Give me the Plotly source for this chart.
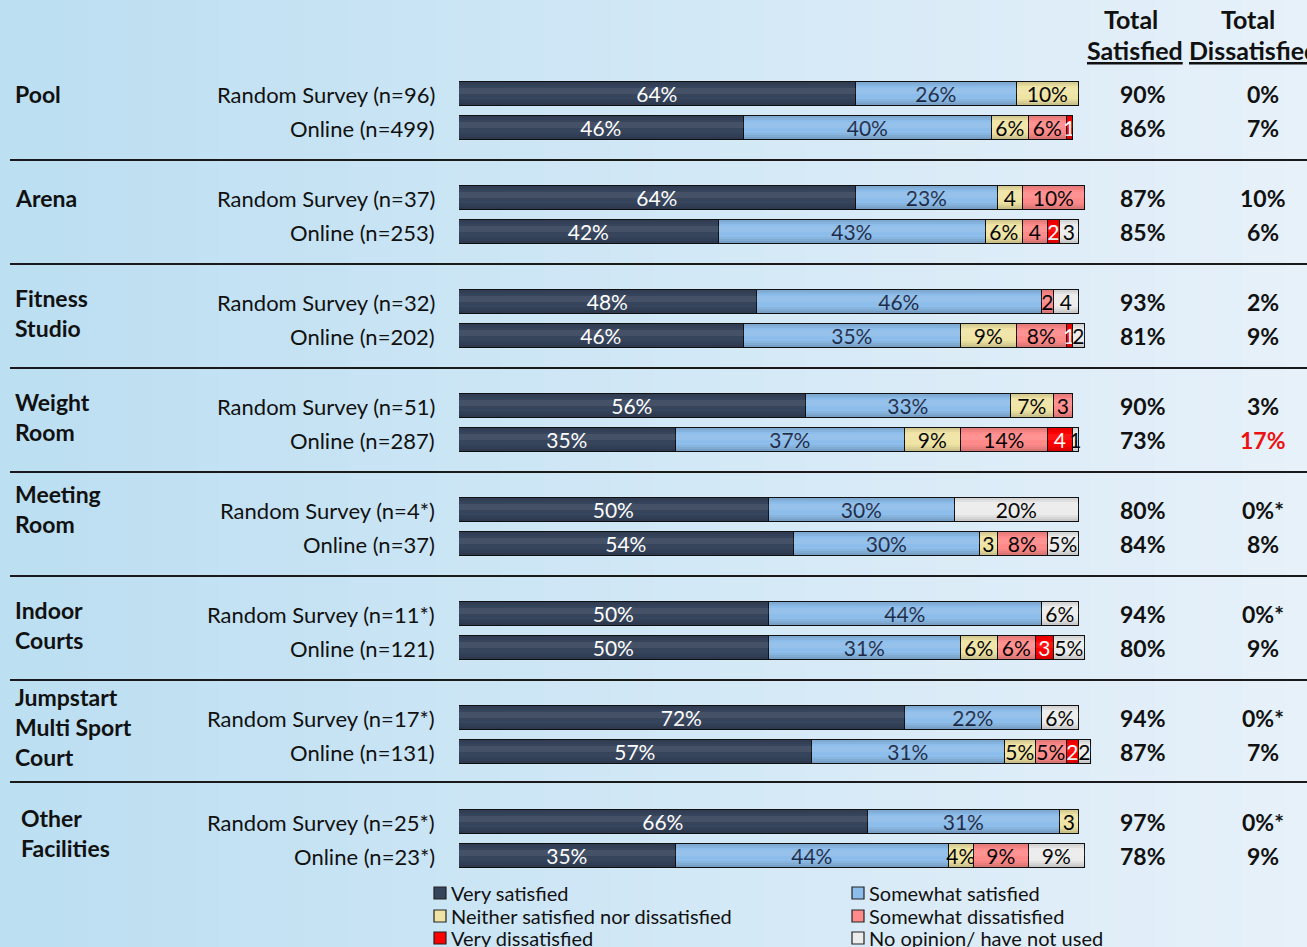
import plotly.graph_objects as go

# ---- data -------------------------------------------------------------
facilities = ["Pool", "Arena", "Fitness<br>Studio", "Weight<br>Room", "Meeting<br>Room",
              "Indoor<br>Courts", "Jumpstart<br>Multi Sport<br>Court", "Other<br>Facilities"]

sample_labels = [
    "Random Survey (n=96)", "Online (n=499)",
    "Random Survey (n=37)", "Online (n=253)",
    "Random Survey (n=32)", "Online (n=202)",
    "Random Survey (n=51)", "Online (n=287)",
    "Random Survey (n=4*)", "Online (n=37)",
    "Random Survey (n=11*)", "Online (n=121)",
    "Random Survey (n=17*)", "Online (n=131)",
    "Random Survey (n=25*)", "Online (n=23*)",
]

very_satisfied     = [64, 46, 64, 42, 48, 46, 56, 35, 50, 54, 50, 50, 72, 57, 66, 35]
somewhat_satisfied = [26, 40, 23, 43, 46, 35, 33, 37, 30, 30, 44, 31, 22, 31, 31, 44]
neither            = [10, 6, 4, 6, 0, 9, 7, 9, 0, 3, 0, 6, 0, 5, 3, 4]
somewhat_dissat    = [0, 6, 10, 4, 2, 8, 3, 14, 0, 8, 0, 6, 0, 5, 0, 9]
very_dissat        = [0, 1, 0, 2, 0, 1, 0, 4, 0, 0, 0, 3, 0, 2, 0, 0]
no_opinion         = [0, 0, 0, 3, 4, 2, 0, 1, 20, 5, 6, 5, 6, 2, 0, 9]

total_satisfied    = ["90%", "86%", "87%", "85%", "93%", "81%", "90%", "73%",
                      "80%", "84%", "94%", "80%", "94%", "87%", "97%", "78%"]
total_dissatisfied = ["0%", "7%", "10%", "6%", "2%", "9%", "3%", "17%",
                      "0%*", "8%", "0%*", "9%", "0%*", "7%", "0%*", "9%"]

series_names = ["Very satisfied", "Somewhat satisfied", "Neither satisfied nor dissatisfied",
                "Somewhat dissatisfied", "Very dissatisfied", "No opinion/ have not used"]

# ---- styling ----------------------------------------------------------
W, H = 1307, 947
FONT = "Lato"
BAR_LEFT, BAR_100 = 459, 620          # pixel start of the bars and width of 100 %
X_MAX = 103                           # a little headroom for rows that round above 100 %
fills = ["#36445c", "#8dbdea", "#efe4a4", "#ff8a8a", "#ff0000", "#ececec"]
text_colors = ["white", "#1e2c48", "black", "black", "white", "black"]
# small segments that still carry a % sign
keep_pct = {(15, 2)}

row_y = [94 + 104 * (i // 2) + 34 * (i % 2) for i in range(len(sample_labels))]

fig = go.Figure()

# soft horizontal background gradient
n_strips = 60
c0 = (188, 223, 242)
c1 = (231, 241, 250)
for k in range(n_strips):
    t = k / (n_strips - 1)
    col = tuple(int(c0[j] + (c1[j] - c0[j]) * t) for j in range(3))
    fig.add_shape(type="rect", xref="paper", yref="paper",
                  x0=k / n_strips, x1=(k + 1) / n_strips + 0.002, y0=0, y1=1,
                  fillcolor="rgb(%d,%d,%d)" % col, line_width=0, layer="below")

all_series = [very_satisfied, somewhat_satisfied, neither, somewhat_dissat, very_dissat, no_opinion]
for s, (name, vals) in enumerate(zip(series_names, all_series)):
    texts = []
    for r, v in enumerate(vals):
        if v == 0:
            texts.append("")
        elif v >= 5 or (r, s) in keep_pct:
            texts.append(f"{v}%")
        else:
            texts.append(f"{v}")
    fig.add_trace(go.Bar(
        x=vals, y=row_y, orientation="h", width=24, name=name,
        marker=dict(color=fills[s], line=dict(color="#111111", width=1.4)),
        text=texts, textposition="inside", insidetextanchor="middle", textangle=0,
        textfont=dict(family=FONT, size=21, color=text_colors[s]),
        showlegend=False, hoverinfo="skip", cliponaxis=False,
    ))

# cylinder-like shading over each stacked bar: darker towards the top and bottom edges
shade_bands = [(-12, -10, "rgba(0,0,0,0.10)"), (-10, -8, "rgba(0,0,0,0.05)"),
               (-6, 0, "rgba(255,255,255,0.07)"),
               (5, 7, "rgba(0,0,0,0.04)"), (7, 9, "rgba(0,0,0,0.09)"),
               (9, 12, "rgba(0,0,0,0.15)")]
for r in range(len(sample_labels)):
    total = sum(series[r] for series in all_series)
    y = row_y[r]
    for d0, d1, col in shade_bands:
        fig.add_shape(type="rect", xref="x", yref="y", x0=0, x1=total, y0=y + d0, y1=y + d1,
                      fillcolor=col, line_width=0, layer="above")

fig.update_layout(
    width=W, height=H, margin=dict(l=0, r=0, t=0, b=0),
    barmode="stack", bargap=0,
    paper_bgcolor="#d6e9f6", plot_bgcolor="rgba(0,0,0,0)",
    uniformtext=dict(minsize=20, mode="show"),
    xaxis=dict(domain=[BAR_LEFT / W, (BAR_LEFT + BAR_100 * X_MAX / 100) / W],
               range=[0, X_MAX], visible=False, fixedrange=True),
    yaxis=dict(domain=[0, 1], range=[H, 0], visible=False, fixedrange=True),
    font=dict(family=FONT),
)

# sample labels, right aligned next to the bars
for r, lab in enumerate(sample_labels):
    fig.add_annotation(x=437 / W, xref="paper", y=row_y[r], yref="y", text=lab,
                       xanchor="right", yanchor="middle", showarrow=False,
                       font=dict(family=FONT, size=22, color="#111111"))

# totals columns
for r in range(len(sample_labels)):
    fig.add_annotation(x=1143 / W, xref="paper", y=row_y[r], yref="y",
                       text=f"<b>{total_satisfied[r]}</b>", xanchor="center", yanchor="middle",
                       showarrow=False, font=dict(family=FONT, size=23, color="#111111"))
    dcol = "#ee1111" if total_dissatisfied[r] == "17%" else "#111111"
    fig.add_annotation(x=1263 / W, xref="paper", y=row_y[r], yref="y",
                       text=f"<b>{total_dissatisfied[r]}</b>", xanchor="center", yanchor="middle",
                       showarrow=False, font=dict(family=FONT, size=23, color=dcol))

# column headers
for x, y, txt, anchor in [(1131, 19, "<b>Total</b>", "center"),
                          (1085, 50, "<b><u>Satisfied</u></b>", "left"),
                          (1248, 19, "<b>Total</b>", "center"),
                          (1187, 50, "<b><u>Dissatisfied</u></b>", "left")]:
    fig.add_annotation(x=x / W, xref="paper", y=y, yref="y", text=txt,
                       xanchor=anchor, yanchor="middle", showarrow=False,
                       font=dict(family=FONT, size=25, color="#111111"))

# facility names and group separators
for g, fac in enumerate(facilities):
    n_lines = fac.count("<br>") + 1
    if n_lines == 1:
        first = row_y[2 * g]
    elif n_lines == 3:
        first = row_y[2 * g] - 21
    elif g == 4:
        first = row_y[2 * g] - 16
    else:
        first = row_y[2 * g] - 4
    xpos = 19 if g == 7 else 13
    fig.add_annotation(x=xpos / W, xref="paper", y=first - 16, yref="y",
                       text=f"<b>{fac}</b>", xanchor="left", yanchor="top", align="left",
                       showarrow=False, font=dict(family=FONT, size=23, color="#111111"))
    if g < len(facilities) - 1:
        sep_y = row_y[2 * g + 1] + 32 - (2 if g == 6 else 0)
        fig.add_shape(type="line", xref="paper", yref="y", x0=10 / W, x1=1, y0=sep_y, y1=sep_y,
                      line=dict(color="#1a1a1a", width=2))

# legend
legend_pos = [(434, 893), (852, 893), (434, 916), (852, 916), (434, 938), (852, 938)]
for s, (lx, ly) in enumerate(legend_pos):
    fig.add_shape(type="rect", xref="paper", yref="y",
                  x0=lx / W, x1=(lx + 12) / W, y0=ly - 6, y1=ly + 6,
                  fillcolor=fills[s], line=dict(color="#222222", width=1.2))
    fig.add_annotation(x=(lx + 15) / W, xref="paper", y=ly, yref="y", text=series_names[s],
                       xanchor="left", yanchor="middle", showarrow=False,
                       font=dict(family=FONT, size=20, color="#111111"))

fig.write_html("out.html")
